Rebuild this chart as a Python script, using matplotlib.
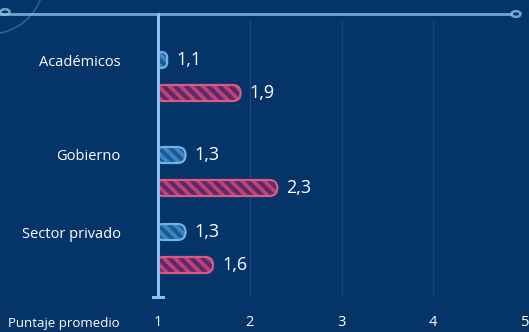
import matplotlib.pyplot as plt
from matplotlib.patches import FancyBboxPatch, Circle, Arc
from matplotlib.lines import Line2D

# Data
categories = ["Académicos", "Gobierno", "Sector privado"]
blue_values = [1.1, 1.3, 1.3]
pink_values = [1.9, 2.3, 1.6]
tick_values = [1, 2, 3, 4, 5]
axis_title = "Puntaje promedio"

# Style
bg = "#053468"
axis_col = "#8cc2ea"
grid_col = "#19477c"
blue_edge = "#6cb4e4"
blue_fill = "#3f86c0"
blue_hatch = "#1d5a98"
pink_edge = "#d85a86"
pink_fill = "#c2426f"
pink_hatch = "#5a2a6e"

plt.rcParams['font.family'] = ['Open Sans', 'DejaVu Sans']
plt.rcParams['hatch.linewidth'] = 3.0

W, H = 529, 332
fig = plt.figure(figsize=(W / 100, H / 100), dpi=100, facecolor=bg)

# axes spans value 1..5 horizontally, pixel rows 14..297 vertically
x0, x1 = 158, 525
y_top, y_bot = 14, 297
ax = fig.add_axes([x0 / W, (H - y_bot) / H, (x1 - x0) / W, (y_bot - y_top) / H])
ax.set_facecolor(bg)
ax.set_xlim(1, 5)
ax.set_ylim(y_bot, y_top)
for s in ax.spines.values():
    s.set_visible(False)

px_per_unit = (x1 - x0) / 4.0
bar_h = 16
group_y = [60, 155, 232]
pink_offset = 33


def rounded_bar(y, value, face, edge, hatch_col):
    left = 0.97
    width = value - left
    r = min(bar_h / 2.0 / px_per_unit, width / 2.0)
    style = "round,pad=0,rounding_size=%f" % r
    ax.add_patch(FancyBboxPatch((left, y - bar_h / 2), width, bar_h,
                                boxstyle=style, mutation_aspect=px_per_unit,
                                facecolor=face, edgecolor=hatch_col, lw=0,
                                hatch="\\\\\\", zorder=3))
    ax.add_patch(FancyBboxPatch((left, y - bar_h / 2), width, bar_h,
                                boxstyle=style, mutation_aspect=px_per_unit,
                                facecolor="none", edgecolor=edge, lw=1.6,
                                zorder=4))
    ax.text(value + 9 / px_per_unit, y, ("%.1f" % value).replace(".", ","),
            color="white", fontsize=13, va="center", ha="left", zorder=5)


# grid lines
ax.vlines(tick_values[1:], 20, y_bot, color=grid_col, lw=1, zorder=1)

for gy, bv, pv in zip(group_y, blue_values, pink_values):
    rounded_bar(gy, bv, blue_fill, blue_edge, blue_hatch)
    rounded_bar(gy + pink_offset, pv, pink_fill, pink_edge, pink_hatch)

# vertical axis line with bottom cap
ax.plot([1, 1], [y_top, y_bot], color=axis_col, lw=2.2, zorder=6, clip_on=False)
ax.plot([1 - 5 / px_per_unit, 1 + 5 / px_per_unit], [y_bot, y_bot],
        color=axis_col, lw=2.2, zorder=6, clip_on=False)

# category labels
ax.set_yticks(group_y)
ax.set_yticklabels(categories, color="white", fontsize=10.5)
ax.tick_params(axis="y", length=0, pad=27)

# x tick labels
ax.set_xticks(tick_values)
ax.set_xticklabels([str(t) for t in tick_values], color="white", fontsize=10.5)
ax.tick_params(axis="x", length=0, pad=13)
fig.text(8 / W, 1 - 324 / H, axis_title, color="white", fontsize=9.5,
         va="center", ha="left")

# top decorative line and circles
fig.add_artist(Line2D([0, 511 / W], [1 - 14 / H, 1 - 14 / H], color=axis_col,
                      lw=2, alpha=0.8))
fig.add_artist(Circle((516 / W, 1 - 14 / H), 4.5 / W, transform=fig.transFigure,
                      facecolor="none", edgecolor=axis_col, lw=1.8, alpha=0.8))
fig.add_artist(Circle((5 / W, 1 - 12 / H), 4.5 / W, transform=fig.transFigure,
                      facecolor="none", edgecolor=axis_col, lw=1.8, alpha=0.8))
fig.add_artist(Arc((-10 / W, 1 + 20 / H), 108 / W, 108 / H, theta1=270,
                   theta2=360, transform=fig.transFigure, color="#2f609a",
                   lw=1.2))

fig.savefig("out.png", dpi=100, facecolor=bg)
